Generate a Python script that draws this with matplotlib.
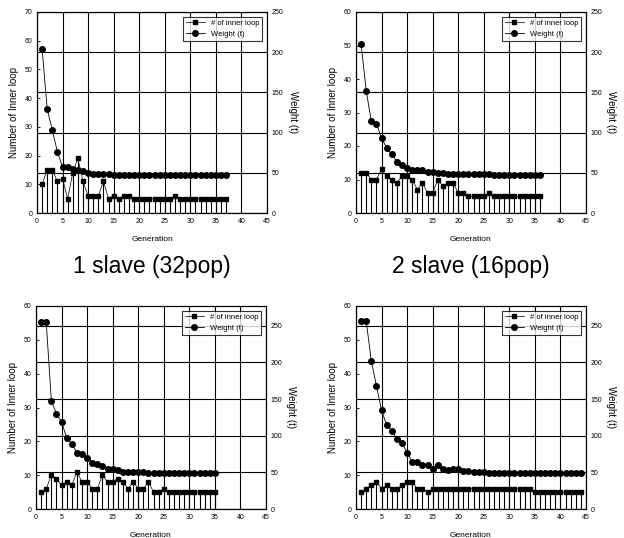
import matplotlib
matplotlib.use('Agg')
import matplotlib.pyplot as plt

plt.rcParams['font.family'] = ['Liberation Sans', 'DejaVu Sans']

# 1 slave (32pop)
gen1 = list(range(1, 38))
loop1 = [10, 15, 15, 11, 12, 5, 14, 19, 11, 6, 6, 6, 11, 5, 6, 5, 6, 6,
         5, 5, 5, 5, 5, 5, 5, 5, 6, 5, 5, 5, 5, 5, 5, 5, 5, 5, 5]
weight1 = [204, 129, 103, 76, 57, 57, 55, 53, 52, 50, 49, 49, 48, 48,
           47, 47, 47, 47, 47, 47, 47, 47, 47, 47, 47, 47, 47, 47, 47, 47,
           47, 47, 47, 47, 47, 47, 47]

# 2 slave (16pop)
gen2 = list(range(1, 37))
loop2 = [12, 12, 10, 10, 13, 11, 10, 9, 11, 11, 10, 7, 9, 6, 6, 10, 8, 9,
         9, 6, 6, 5, 5, 5, 5, 6, 5, 5, 5, 5, 5, 5, 5, 5, 5, 5]
weight2 = [210, 152, 114, 111, 93, 81, 73, 64, 60, 56, 54, 53, 53, 51, 51,
           50, 50, 49, 48, 48, 48, 48, 48, 48, 48, 48, 47, 47, 47, 47, 47,
           47, 47, 47, 47, 47]

# bottom left
gen3 = list(range(1, 36))
loop3 = [5, 6, 10, 9, 7, 8, 7, 11, 8, 8, 6, 6, 10, 8, 8, 9, 8, 6, 8, 6,
         6, 8, 5, 5, 6, 5, 5, 5, 5, 5, 5, 5, 5, 5, 5]
weight3 = [255, 255, 148, 130, 119, 97, 89, 77, 75, 70, 63, 62, 58, 55, 54,
           53, 51, 51, 50, 50, 50, 49, 49, 49, 49, 49, 49, 49, 49, 49, 49,
           49, 49, 49, 49]

# bottom right
gen4 = list(range(1, 45))
loop4 = [5, 6, 7, 8, 6, 7, 6, 6, 7, 8, 8, 6, 6, 5, 6, 6, 6, 6, 6, 6, 6, 6,
         6, 6, 6, 6, 6, 6, 6, 6, 6, 6, 6, 6, 5, 5, 5, 5, 5, 5, 5, 5, 5, 5]
weight4 = [257, 256, 202, 168, 135, 114, 107, 95, 90, 77, 64, 64, 60, 60,
           55, 60, 55, 53, 55, 54, 52, 52, 51, 50, 50, 49, 49, 49, 49, 49,
           49, 49, 49, 49, 49, 49, 49, 49, 49, 49, 49, 49, 49, 49]

W, H = 624, 538
fig = plt.figure(figsize=(W / 100, H / 100), dpi=100)


def panel(rect, gen, loop, weight, ymax, wmax, title=None):
    ax = fig.add_axes(rect)
    ax2 = ax.twinx()
    ax.set_zorder(ax2.get_zorder() + 1)
    ax.patch.set_visible(False)

    ax.vlines(gen, 0, loop, color='black', linewidth=0.8)
    l1, = ax.plot(gen, loop, color='black', linewidth=0.5,
                  marker='s', markersize=2.2, label='# of inner loop')
    l2, = ax.plot(gen, [w * ymax / wmax for w in weight], color='black',
                  linewidth=0.6, marker='o', markersize=4, label='Weight (t)')

    ax.set_xlim(0, 45)
    ax.set_ylim(0, ymax)
    ax.set_xticks(range(0, 46, 5))
    ax.set_yticks(range(0, ymax + 1, 10))
    ax2.set_ylim(0, wmax)
    ax2.set_yticks(range(0, 251, 50))
    ax.xaxis.grid(True, color='black', linewidth=0.8)
    ax2.yaxis.grid(True, color='black', linewidth=0.8)
    for a in (ax, ax2):
        a.tick_params(direction='in', labelsize=5, length=2, width=0.6)
        for s in a.spines.values():
            s.set_linewidth(0.8)
    ax.set_xlabel('Generation', fontsize=6, labelpad=8)
    ax.set_ylabel('Number of Inner loop', fontsize=7)
    ax2.set_ylabel('Weight (t)', fontsize=7, rotation=270, labelpad=10)

    leg = ax.legend(handles=[l1, l2], loc='upper right', fontsize=5.5,
                    frameon=True, fancybox=False, edgecolor='black',
                    handlelength=2.5, borderaxespad=0.6)
    leg.get_frame().set_linewidth(0.8)

    if title:
        ax.text(0.5, -0.21, title, transform=ax.transAxes, ha='center',
                va='top', fontsize=16.5)
    return ax


pw = 230 / W
panel([37 / W, (H - 213) / H, pw, 201 / H], gen1, loop1, weight1, 70, 250,
      '1 slave (32pop)')
panel([356 / W, (H - 213) / H, pw, 201 / H], gen2, loop2, weight2, 60, 250,
      '2 slave (16pop)')
panel([36 / W, (H - 509) / H, pw, 203 / H], gen3, loop3, weight3, 60, 277)
panel([356 / W, (H - 509) / H, pw, 203 / H], gen4, loop4, weight4, 60, 277)

fig.savefig('out.png', dpi=100)
